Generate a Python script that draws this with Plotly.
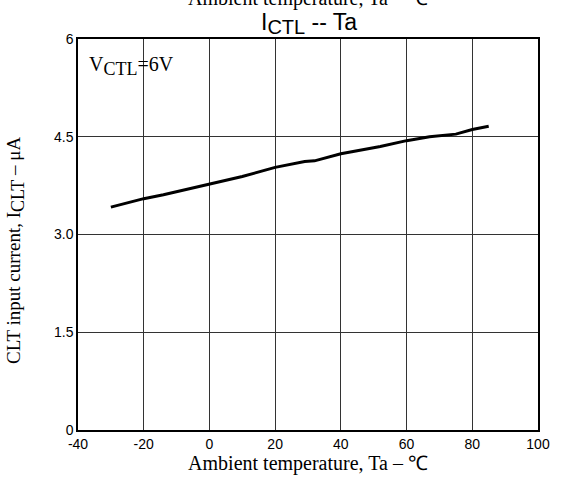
import plotly.graph_objects as go

# Ambient temperature, Ta (degC)
temps = [-30, -20, -14, 0, 10, 20, 29, 32, 40, 52, 60, 67, 75, 80, 85]
# CTL input current (uA)
currents = [3.42, 3.55, 3.61, 3.78, 3.89, 4.03, 4.12, 4.13, 4.24, 4.35, 4.44, 4.50, 4.54, 4.61, 4.66]

x_ticks = [-40, -20, 0, 20, 40, 60, 80, 100]
y_ticks = [0, 1.5, 3.0, 4.5, 6]
y_labels = ["0", "1.5", "3.0", "4.5", "6"]

serif = "Liberation Serif, Times New Roman, serif"
sans = "Liberation Sans, Arial, sans-serif"


def sub(txt, size):
    # subscript that stays close to full size, like the datasheet
    return f"<sub><span style='font-size:{size}px'>{txt}</span></sub>"


fig = go.Figure()

fig.add_trace(go.Scatter(
    x=temps, y=currents,
    mode="lines",
    line=dict(color="black", width=3),
    showlegend=False,
))

fig.update_xaxes(
    range=[-40, 100], tickvals=x_ticks, ticktext=[str(v) for v in x_ticks],
    showgrid=True, gridcolor="#333", gridwidth=1,
    showline=True, linecolor="black", linewidth=1.5, mirror=True,
    zeroline=False, ticks="",
    tickfont=dict(family=sans, size=14, color="black"),
    title=dict(text="Ambient temperature, Ta – ℃",
               font=dict(family=serif, size=20, color="black"), standoff=2),
)
fig.update_yaxes(
    range=[0, 6], tickvals=y_ticks, ticktext=y_labels,
    showgrid=True, gridcolor="#333", gridwidth=1,
    showline=True, linecolor="black", linewidth=1.5, mirror=True,
    zeroline=False, ticks="",
    tickfont=dict(family=sans, size=14, color="black"),
)

# y title as an annotation so it can sit a bit lower, like the original
fig.add_annotation(
    x=0, y=0.5, xref="paper", yref="paper",
    xanchor="right", yanchor="middle", xshift=-48, yshift=-16,
    textangle=-90, showarrow=False,
    text="CLT input current, I" + sub("CLT", 18) + " – μA",
    font=dict(family=serif, size=19, color="black"),
)

fig.add_annotation(
    x=0.02, y=0.97, xref="paper", yref="paper",
    xanchor="left", yanchor="top", showarrow=False,
    text="V" + sub("CTL", 18) + "=6V",
    font=dict(family=serif, size=20, color="black"),
)

# clipped leftover label at the very top of the page
fig.add_annotation(
    x=0.5, y=1, xref="paper", yref="paper",
    xanchor="center", yanchor="bottom", yshift=27, showarrow=False,
    text="Ambient temperature, Ta – ℃",
    font=dict(family=serif, size=20, color="black"),
)

fig.update_layout(
    width=562, height=480,
    margin=dict(l=78, r=22, t=39, b=49),
    paper_bgcolor="white", plot_bgcolor="white",
    title=dict(text="I" + sub("CTL", 20) + " -- Ta", x=0.55, xanchor="center",
               y=0.955, yref="container", yanchor="middle",
               font=dict(family=sans, size=23, color="black")),
)

fig.write_html("out.html", config={"displayModeBar": False},
               post_script="document.body.style.margin='0';")
